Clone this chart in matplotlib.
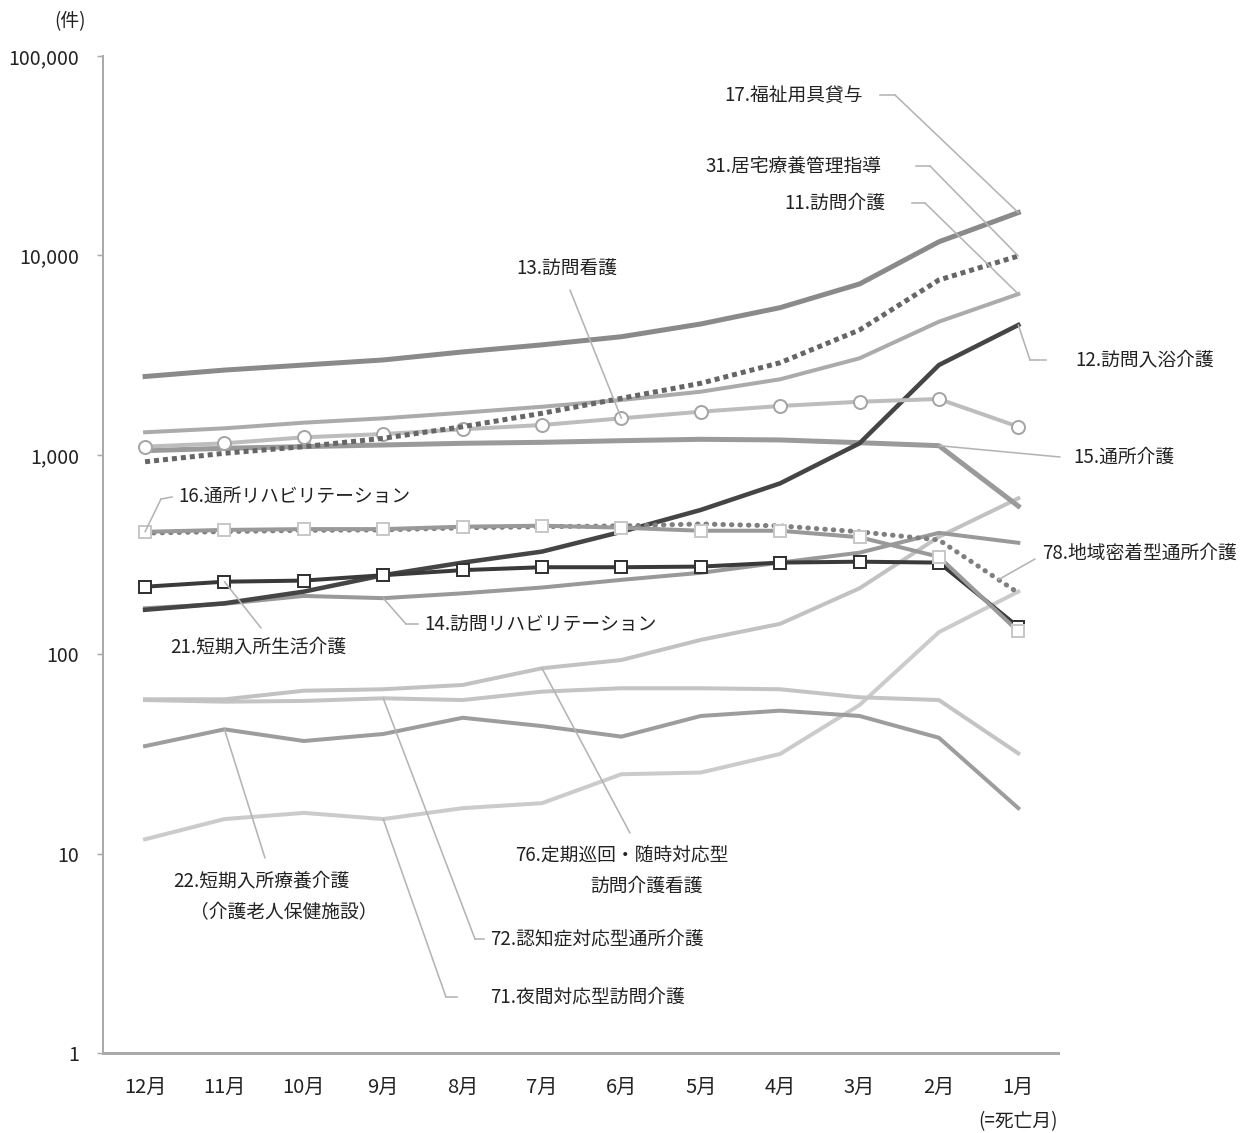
import numpy as np
import matplotlib
matplotlib.use('Agg')
import matplotlib.pyplot as plt
from matplotlib.lines import Line2D
from matplotlib.ticker import FixedLocator, NullLocator

plt.rcParams['font.family'] = ['Noto Sans CJK JP', 'DejaVu Sans']

# ── Data (件, log scale) ─────────────────────────────────────────────
months = ['12月', '11月', '10月', '9月', '8月', '7月', '6月', '5月', '4月', '3月', '2月', '1月']

fukushi_17 = [2470, 2660, 2820, 2990, 3280, 3560, 3910, 4530, 5470, 7190, 11700, 16400]
kyotaku_31 = [923, 1018, 1099, 1210, 1383, 1615, 1920, 2284, 2896, 4226, 7530, 9930]
homon_kaigo_11 = [1297, 1358, 1449, 1524, 1626, 1742, 1883, 2072, 2392, 3048, 4651, 6402]
homon_kango_13 = [1099, 1142, 1224, 1271, 1342, 1411, 1524, 1645, 1757, 1846, 1905, 1383]
tsusho_15 = [1049, 1078, 1099, 1120, 1142, 1155, 1177, 1196, 1187, 1150, 1111, 553]
nyuyoku_12 = [167, 180, 206, 249, 288, 327, 411, 529, 719, 1142, 2820, 4477]
tsusho_reha_16 = [411, 420, 424, 424, 436, 441, 431, 416, 416, 386, 308, 130]
chiiki_78 = [405, 412, 418, 420, 430, 436, 440, 450, 440, 411, 374, 203]
tanki_seikatsu_21 = [218, 231, 234, 249, 264, 273, 273, 275, 288, 291, 288, 137]
homon_reha_14 = [170, 179, 196, 191, 202, 216, 236, 256, 288, 323, 406, 362]
teiki_76 = [59.4, 59.4, 65.6, 66.7, 70.1, 85, 93.5, 118, 142, 214, 388, 605]
ninchi_72 = [58.9, 57.8, 58.3, 60.1, 58.9, 64.9, 67.5, 67.5, 66.7, 60.8, 58.9, 31.8]
tanki_ryoyo_22 = [34.6, 42.0, 36.7, 39.8, 48.0, 43.6, 38.6, 49.0, 52.1, 49.0, 38.1, 16.9]
yakan_71 = [11.8, 14.9, 16.0, 14.9, 16.9, 17.9, 25.0, 25.5, 31.6, 55.6, 129, 206]

yticks = [1, 10, 100, 1000, 10000, 100000]
ytick_labels = ['1', '10', '100', '1,000', '10,000', '100,000']

# ── Figure ───────────────────────────────────────────────────────────
W, H = 1245, 1133
fig = plt.figure(figsize=(W / 100, H / 100), dpi=100)
ax = fig.add_axes([103 / W, 1 - 1053 / H, 955 / W, (1053 - 56) / H])
x = np.arange(len(months))

px = 1 / 1.389  # one reference pixel in points
FS = 13.5
TXT = '#222222'

# light lines first
ax.plot(x, yakan_71, color='#cbcbcb', lw=4 * px)
ax.plot(x, ninchi_72, color='#c4c4c4', lw=4 * px)
ax.plot(x, teiki_76, color='#c2c2c2', lw=4 * px)
ax.plot(x, tanki_ryoyo_22, color='#9d9d9d', lw=4 * px)
ax.plot(x, homon_reha_14, color='#999999', lw=4 * px)
ax.plot(x, tsusho_15, color='#9a9a9a', lw=5 * px)
ax.plot(x, nyuyoku_12, color='#454545', lw=4.5 * px)
ax.plot(x, chiiki_78, color='#7f7f7f', lw=5 * px, linestyle=(0, (0.1, 1.6)),
        dash_capstyle='round')
ax.plot(x, tanki_seikatsu_21, color='#3a3a3a', lw=4 * px, marker='s', ms=12 * px,
        mfc='white', mec='#333333', mew=2 * px)
ax.plot(x, tsusho_reha_16, color='#999999', lw=4 * px, marker='s', ms=12 * px,
        mfc='white', mec='#c8c8c8', mew=2 * px)
ax.plot(x, homon_kango_13, color='#bdbdbd', lw=4 * px, marker='o', ms=13 * px,
        mfc='white', mec='#a5a5a5', mew=2 * px)
ax.plot(x, homon_kaigo_11, color='#ababab', lw=4 * px)
ax.plot(x, kyotaku_31, color='#666666', lw=5 * px, linestyle=(0, (1, 0.8)),
        dash_capstyle='butt')
ax.plot(x, fukushi_17, color='#8a8a8a', lw=5 * px)

ax.set_yscale('log')
ax.set_ylim(1, 100000)
ax.set_xlim(-0.53, 11.5)
ax.yaxis.set_major_locator(FixedLocator(yticks))
ax.yaxis.set_minor_locator(NullLocator())
ax.set_yticklabels(ytick_labels)
ax.set_xticks(x)
ax.set_xticklabels(months)

for s in ['top', 'right']:
    ax.spines[s].set_visible(False)
ax.spines['left'].set_color('#aaaaaa')
ax.spines['left'].set_linewidth(2 * px)
ax.spines['bottom'].set_color('#aaaaaa')
ax.spines['bottom'].set_linewidth(3 * px)
ax.tick_params(axis='y', length=6 * px, width=1.5 * px, color='#aaaaaa',
               pad=13, labelsize=14, labelcolor=TXT)
ax.tick_params(axis='x', length=0, pad=17, labelsize=14.5, labelcolor=TXT)

fig.text(70 / W, 1 - 22 / H, '(件)', ha='center', va='center', fontsize=FS, color=TXT)
fig.text(1018 / W, 1 - 1122 / H, '(=死亡月)', ha='center', va='center', fontsize=FS,
         color=TXT)

# ── Labels with leader lines ─────────────────────────────────────────
LEAD = '#b4b4b4'


def fp(p):
    return (p[0] / W, 1 - p[1] / H)


def label(text, pos, ha='left'):
    fig.text(pos[0] / W, 1 - pos[1] / H, text, ha=ha, va='center', fontsize=FS, color=TXT)


def leader(xi, yv, path):
    # first segment from the data point to path[0], then the rest in pixels
    ax.annotate('', xy=(xi, yv), xycoords='data', xytext=fp(path[0]),
                textcoords='figure fraction',
                arrowprops=dict(arrowstyle='-', color=LEAD, lw=1.6 * px,
                                shrinkA=0, shrinkB=0))
    if len(path) > 1:
        xs, ys = zip(*[fp(p) for p in path])
        fig.add_artist(Line2D(xs, ys, color=LEAD, lw=1.6 * px, transform=fig.transFigure))


label('17.福祉用具貸与', (863, 95), ha='right')
leader(11, fukushi_17[11], [(895, 95), (880, 95)])

label('31.居宅療養管理指導', (881, 166), ha='right')
leader(11, kyotaku_31[11], [(930, 166), (916, 166)])

label('11.訪問介護', (885, 203), ha='right')
leader(11, homon_kaigo_11[11], [(925, 203), (912, 203)])

label('13.訪問看護', (567, 269), ha='center')
leader(6, homon_kango_13[6], [(570, 290)])

label('12.訪問入浴介護', (1075, 360))
leader(11, nyuyoku_12[11], [(1030, 360), (1046, 360)])

label('15.通所介護', (1073, 457))
leader(10, tsusho_15[10], [(1060, 457)])

label('16.通所リハビリテーション', (178, 497))
leader(0, tsusho_reha_16[0], [(161, 499), (172, 497)])

label('21.短期入所生活介護', (170, 647))
leader(1, tanki_seikatsu_21[1], [(261, 628)])

label('14.訪問リハビリテーション', (424, 624))
leader(3, homon_reha_14[3], [(406, 624), (418, 624)])

# point on the dotted 78 line between 2月 and 1月
t78 = 0.75
v78 = 10 ** ((1 - t78) * np.log10(chiiki_78[10]) + t78 * np.log10(chiiki_78[11]))
label('78.地域密着型通所介護', (1042, 553))
leader(10 + t78, v78, [(1035, 559)])

label('76.定期巡回・随時対応型', (515, 855))
label('訪問介護看護', (590, 886))
leader(5, teiki_76[5], [(630, 833)])

label('22.短期入所療養介護', (173, 881))
label('（介護老人保健施設）', (190, 913))
leader(1, tanki_ryoyo_22[1], [(265, 858)])

label('72.認知症対応型通所介護', (490, 939))
leader(3, ninchi_72[3], [(475, 939), (484, 939)])

label('71.夜間対応型訪問介護', (490, 997))
leader(3, yakan_71[3], [(446, 997), (457, 997)])

fig.savefig('out.png', dpi=100)
